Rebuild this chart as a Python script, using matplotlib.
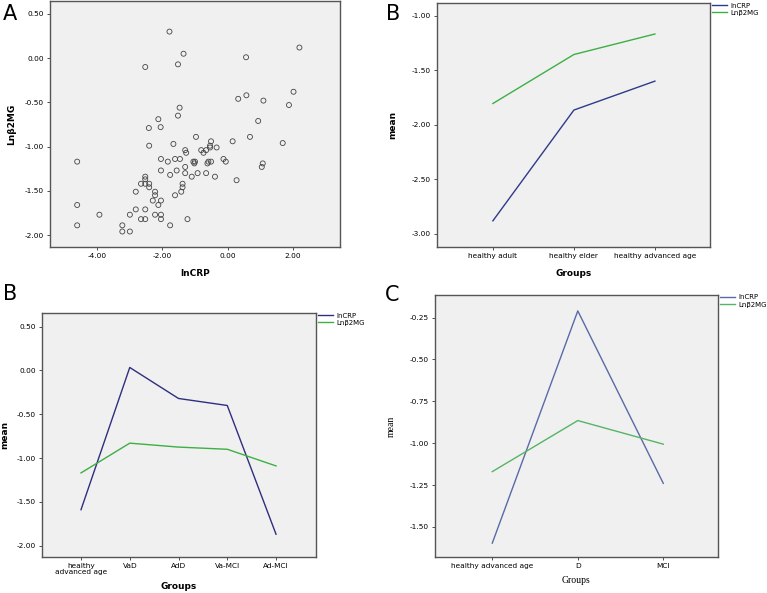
import matplotlib
matplotlib.use('Agg')
import matplotlib.pyplot as plt

# data

crp_x = [-1.78, -1.35, -1.52, -2.52, 0.56, 2.19, 0.32, 0.57, 1.09, 2.01, 1.87,
         -1.47, -1.52, -2.12, -2.05, -2.41, 0.93, -0.97, 0.68, -2.40, -1.66,
         0.15, 1.68, -0.51, -0.54, -0.54, -0.34, -0.81, -0.66, -0.74, -1.30,
         -1.27, -2.04, -1.83, -1.61, -1.46, -1.05, -1.00, -1.02, -0.59, -0.51,
         -0.62, -0.13, -0.06, 1.07, 1.04, -2.04, -1.56, -1.30, -1.76, -1.30,
         -1.10, -0.92, -0.66, -0.39, 0.27, -1.38, -1.38, -1.42, -1.61, -2.22,
         -2.22, -2.29, -2.04, -2.12, -2.22, -2.04, -2.04, -1.76, -1.23, -4.60,
         -2.52, -2.52, -2.65, -2.52, -2.40, -2.40, -2.81, -4.60, -3.92, -2.81,
         -2.52, -2.99, -2.65, -2.52, -4.60, -3.22, -3.22, -2.99]
b2mg_y = [0.30, 0.05, -0.07, -0.10, 0.01, 0.12, -0.46, -0.42, -0.48, -0.38, -0.53,
          -0.56, -0.65, -0.69, -0.78, -0.79, -0.71, -0.89, -0.89, -0.99, -0.97,
          -0.94, -0.96, -0.94, -0.99, -1.01, -1.01, -1.04, -1.04, -1.07, -1.04,
          -1.07, -1.14, -1.17, -1.14, -1.14, -1.17, -1.17, -1.19, -1.17, -1.17,
          -1.19, -1.14, -1.17, -1.19, -1.23, -1.27, -1.27, -1.23, -1.32, -1.30,
          -1.34, -1.30, -1.30, -1.34, -1.38, -1.42, -1.46, -1.51, -1.55, -1.51,
          -1.55, -1.61, -1.61, -1.66, -1.77, -1.77, -1.82, -1.89, -1.82, -1.17,
          -1.34, -1.37, -1.42, -1.42, -1.42, -1.46, -1.51, -1.66, -1.77, -1.71,
          -1.71, -1.77, -1.82, -1.82, -1.89, -1.89, -1.96, -1.96]

healthy_groups = ['healthy adult', 'healthy elder', 'healthy advanced age']
healthy_crp = [-2.88, -1.865, -1.60]
healthy_b2mg = [-1.805, -1.356, -1.168]

dementia_groups = ['healthy\nadvanced age', 'VaD', 'AdD', 'Va-MCI', 'Ad-MCI']
dementia_crp = [-1.59, 0.034, -0.32, -0.40, -1.87]
dementia_b2mg = [-1.17, -0.83, -0.875, -0.90, -1.09]

dm_groups = ['healthy advanced age', 'D', 'MCI']
dm_crp = [-1.597, -0.21, -1.24]
dm_b2mg = [-1.17, -0.865, -1.006]

W, H = 767, 593
bg = '#f0f0f0'
edge = '#555555'

fig = plt.figure(figsize=(W / 100, H / 100), dpi=100)


def box(l, r, t, b):
    return [l / W, 1 - b / H, (r - l) / W, (b - t) / H]


def style(ax, tick_fs=5.3):
    ax.set_facecolor(bg)
    for s in ax.spines.values():
        s.set_color(edge)
        s.set_linewidth(1.0)
    ax.tick_params(direction='out', length=2.5, width=0.6, color='#333333',
                   labelsize=tick_fs, pad=2)


# A: scatter
axA = fig.add_axes(box(50, 340, 1, 247))
style(axA)
axA.scatter(crp_x, b2mg_y, s=13, facecolors='none', edgecolors='#444444', linewidths=0.6)
axA.set_xlim(-5.43, 3.43)
axA.set_ylim(-2.135, 0.646)
axA.set_xticks([-4, -2, 0, 2])
axA.set_xticklabels(['-4.00', '-2.00', '0.00', '2.00'])
axA.set_yticks([-2, -1.5, -1, -0.5, 0, 0.5])
axA.set_yticklabels(['-2.00', '-1.50', '-1.00', '-0.50', '0.00', '0.50'])
axA.set_xlabel('lnCRP', fontsize=6.5, fontweight='bold', labelpad=7)
axA.set_ylabel('Lnβ2MG', fontsize=6.5, fontweight='bold', labelpad=6)


def lines(ax, groups, crp, b2mg, c1, c2):
    pos = list(range(len(groups)))
    ax.plot(pos, crp, color=c1, lw=1.0, label='lnCRP')
    ax.plot(pos, b2mg, color=c2, lw=1.0, label='Lnβ2MG')
    ax.set_xticks(pos)
    ax.set_xticklabels(groups)
    ax.legend(loc='upper left', bbox_to_anchor=(1.0, 1.01), frameon=False,
              fontsize=5, handlelength=2.2, handletextpad=0.4, labelspacing=0.15,
              borderaxespad=0.1, borderpad=0.2)


def yfmt(ax, ticks):
    ax.set_yticks(ticks)
    ax.set_yticklabels(['%.2f' % t for t in ticks])


# B top
axB = fig.add_axes(box(437, 710, 3, 247))
style(axB)
lines(axB, healthy_groups, healthy_crp, healthy_b2mg, '#2e3a8c', '#3cb043')
axB.set_xlim(-0.69, 2.68)
axB.set_ylim(-3.12, -0.884)
yfmt(axB, [-3.0, -2.5, -2.0, -1.5, -1.0])
axB.set_xlabel('Groups', fontsize=6.5, fontweight='bold', labelpad=7)
axB.set_ylabel('mean', fontsize=6.5, fontweight='bold', labelpad=10)

# B bottom
axB2 = fig.add_axes(box(42, 316, 313, 557))
style(axB2)
lines(axB2, dementia_groups, dementia_crp, dementia_b2mg, '#2e2f7e', '#3cb043')
axB2.set_xlim(-0.8, 4.82)
axB2.set_ylim(-2.13, 0.656)
yfmt(axB2, [-2.0, -1.5, -1.0, -0.5, 0.0, 0.5])
axB2.set_xlabel('Groups', fontsize=6.5, fontweight='bold', labelpad=5)
axB2.set_ylabel('mean', fontsize=6.5, fontweight='bold', labelpad=5)
for t in axB2.get_xticklabels():
    t.set_linespacing(0.9)

# C
axC = fig.add_axes(box(435, 718, 295, 557))
style(axC)
lines(axC, dm_groups, dm_crp, dm_b2mg, '#5a6aa6', '#55b565')
axC.set_xlim(-0.67, 2.64)
axC.set_ylim(-1.68, -0.115)
yfmt(axC, [-1.5, -1.25, -1.0, -0.75, -0.5, -0.25])
axC.set_xlabel('Groups', fontsize=7, family='Liberation Serif', labelpad=5)
axC.set_ylabel('mean', fontsize=7, family='Liberation Serif', labelpad=10)

# panel letters
for x, y, s in [(3, 4, 'A'), (386, 4, 'B'), (3, 284, 'B'), (385, 285, 'C')]:
    fig.text(x / W, 1 - y / H, s, fontsize=15, va='top', ha='left')

fig.savefig('out.png', dpi=100)
